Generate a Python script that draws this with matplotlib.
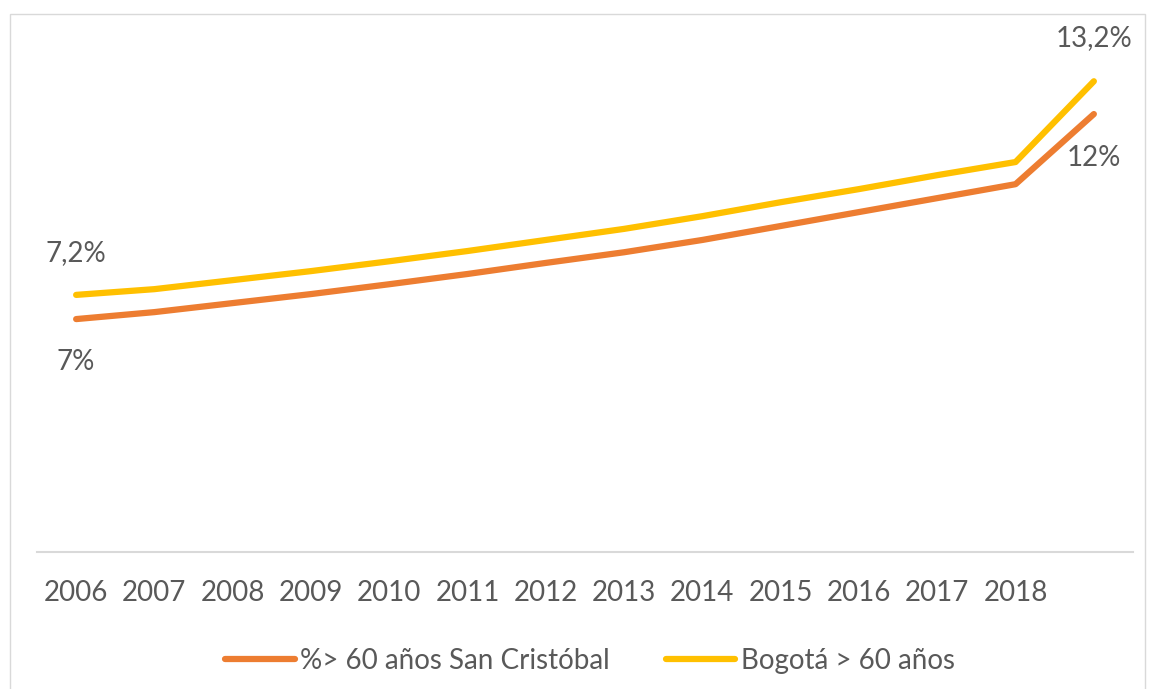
import numpy as np
import matplotlib.pyplot as plt
from matplotlib.patches import Rectangle

# datos
years = ['2006', '2007', '2008', '2009', '2010', '2011', '2012',
         '2013', '2014', '2015', '2016', '2017', '2018', '']
san_cristobal = [7.00, 7.17, 7.39, 7.61, 7.85, 8.10, 8.37,
                 8.63, 8.93, 9.27, 9.61, 9.95, 10.29, 12.00]
bogota = [7.59, 7.73, 7.95, 8.17, 8.41, 8.66, 8.93,
          9.20, 9.51, 9.85, 10.17, 10.51, 10.83, 12.80]
label_sc = ['7%', '12%']
label_bog = ['7,2%', '13,2%']
names = ['%> 60 años San Cristóbal', 'Bogotá > 60 años']

gris = '#595959'
fs = 20
plt.rcParams['font.family'] = ['Lato', 'DejaVu Sans']

fig = plt.figure(figsize=(11.59, 6.89), dpi=100)
ax = fig.add_axes([37/1159, 1-552/689, 1096/1159, 538/689])

x = np.arange(len(years))
ax.plot(x, san_cristobal, color='#ED7D31', lw=4.5, solid_capstyle='round',
        solid_joinstyle='round', label=names[0])
ax.plot(x, bogota, color='#FFC000', lw=4.5, solid_capstyle='round',
        solid_joinstyle='round', label=names[1])

ax.set_xlim(-0.5, len(years) - 0.5)
ax.set_ylim(1.32, 14.44)
ax.set_xticks(x)
ax.set_xticklabels(years, fontsize=fs, color=gris)
ax.tick_params(axis='x', length=0, pad=20)
ax.set_yticks([])
for s in ['top', 'right', 'left']:
    ax.spines[s].set_visible(False)
ax.spines['bottom'].set_color('#D9D9D9')
ax.spines['bottom'].set_linewidth(1.5)

# etiquetas de datos
ax.annotate(label_sc[0], (x[0], san_cristobal[0]), xytext=(0, -31),
            textcoords='offset points', ha='center', va='center', fontsize=fs, color=gris)
ax.annotate(label_sc[1], (x[-1], san_cristobal[-1]), xytext=(0, -32),
            textcoords='offset points', ha='center', va='center', fontsize=fs, color=gris)
ax.annotate(label_bog[0], (x[0], bogota[0]), xytext=(0, 30),
            textcoords='offset points', ha='center', va='center', fontsize=fs, color=gris)
ax.annotate(label_bog[1], (x[-1], bogota[-1]), xytext=(0, 31),
            textcoords='offset points', ha='center', va='center', fontsize=fs, color=gris)

leg = fig.legend(loc='center', bbox_to_anchor=(590/1159, 1-661/689), ncol=2,
                 frameon=False, fontsize=fs, handlelength=2.5, columnspacing=2.0,
                 handletextpad=0.2, labelcolor=gris)

# marco del area del grafico
fig.patches.append(Rectangle((10/1159, -0.01), 1135/1159, 1-14/689 + 0.01,
                             transform=fig.transFigure, fill=False,
                             edgecolor='#D9D9D9', lw=1))

fig.savefig('out.png', dpi=100)
